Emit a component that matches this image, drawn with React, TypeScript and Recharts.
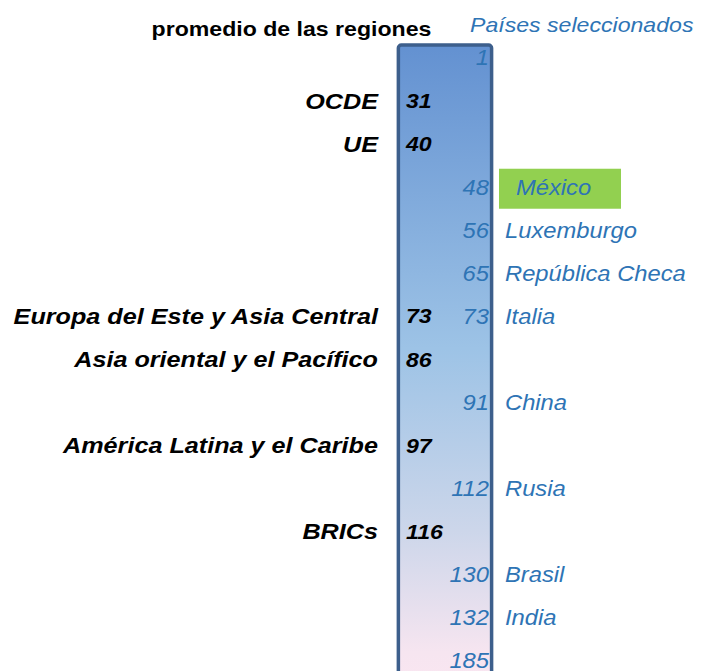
import { Bar, ComposedChart, ReferenceArea, XAxis, YAxis } from "recharts";

const regionNames = [
  "OCDE",
  "UE",
  "Europa del Este y Asia Central",
  "Asia oriental y el Pacífico",
  "América Latina y el Caribe",
  "BRICs",
];
const regionRanks = [31, 40, 73, 86, 97, 116];

const countryNames = [
  "",
  "México",
  "Luxemburgo",
  "República Checa",
  "Italia",
  "China",
  "Rusia",
  "Brasil",
  "India",
  "",
];
const countryRanks = [1, 48, 56, 65, 73, 91, 112, 130, 132, 185];

const HIGHLIGHT = "México";

const rows = Array.from(new Set([...regionRanks, ...countryRanks]))
  .sort((a, b) => a - b)
  .map((rank) => ({ rank }));

const FONT = '"Liberation Sans", Arial, sans-serif';
const BLUE = "#2e74b5";

function RegionTick({ y, payload }: any) {
  const i = regionRanks.indexOf(payload.value);
  if (i < 0) return <g />;
  return (
    <g fontFamily={FONT} fontWeight="bold" fontStyle="italic" fill="#000">
      <text transform={`translate(378 ${y}) scale(1.12 1)`} textAnchor="end" dy="0.36em" fontSize={22.5}>
        {regionNames[i]}
      </text>
      <text transform={`translate(406 ${y}) scale(1.1 1)`} textAnchor="start" dy="0.36em" fontSize={21}>
        {regionRanks[i]}
      </text>
    </g>
  );
}

function CountryTick({ y, payload }: any) {
  const i = countryRanks.indexOf(payload.value);
  if (i < 0) return <g />;
  const name = countryNames[i];
  const hl = name === HIGHLIGHT;
  return (
    <g fontFamily={FONT} fontStyle="italic" fill={BLUE}>
      {hl ? <rect x={499} y={y - 18} width={122} height={40} fill="#92d050" /> : null}
      <text transform={`translate(489 ${y}) scale(1.08 1)`} textAnchor="end" dy="0.36em" fontSize={22}>
        {countryRanks[i]}
      </text>
      {name ? (
        <text transform={`translate(${hl ? 516 : 505} ${y}) scale(1.08 1)`} textAnchor="start" dy="0.36em" fontSize={22}>
          {name}
        </text>
      ) : null}
    </g>
  );
}

function Column(p: any) {
  return (
    <rect
      x={p.x}
      y={p.y + 9}
      width={p.width}
      height={p.height}
      rx={3}
      fill="url(#barFill)"
      stroke="#3d5f8c"
      strokeWidth={3.5}
    />
  );
}

export default function App() {
  return (
    <div style={{ position: "absolute", left: 0, top: 0, width: 701, height: 671, overflow: "hidden", background: "#fff" }}>
      <ComposedChart
        width={701}
        height={700}
        data={rows}
        layout="vertical"
        margin={{ top: 36, right: 0, bottom: 18, left: 0 }}
      >
        <defs>
          <linearGradient id="barFill" x1="0" y1="0" x2="0" y2="1">
            <stop offset="0%" stopColor="#6391d1" />
            <stop offset="47%" stopColor="#9dc3e6" />
            <stop offset="75%" stopColor="#ccd6ea" />
            <stop offset="94%" stopColor="#f6e5f0" />
            <stop offset="100%" stopColor="#fbe6f1" />
          </linearGradient>
        </defs>
        <XAxis type="number" domain={[0, 701]} hide />
        <ReferenceArea
          yAxisId="left"
          y1={rows[0].rank}
          y2={rows[rows.length - 1].rank}
          x1={398.5}
          x2={492}
          ifOverflow="visible"
          shape={<Column />}
        />
        <Bar yAxisId="left" dataKey="rank" fillOpacity={0} isAnimationActive={false} />
        <YAxis
          yAxisId="left"
          type="category"
          dataKey="rank"
          width={1}
          interval={0}
          axisLine={false}
          tickLine={false}
          tick={<RegionTick />}
        />
        <YAxis
          yAxisId="right"
          orientation="right"
          type="category"
          dataKey="rank"
          width={1}
          interval={0}
          axisLine={false}
          tickLine={false}
          tick={<CountryTick />}
        />
      </ComposedChart>
      <div
        style={{
          position: "absolute",
          right: 701 - 431,
          top: 17,
          fontFamily: FONT,
          fontWeight: "bold",
          fontSize: 21,
          whiteSpace: "nowrap",
          transform: "scaleX(1.1)",
          transformOrigin: "right center",
        }}
      >
        promedio de las regiones
      </div>
      <div
        style={{
          position: "absolute",
          left: 470,
          top: 13,
          fontFamily: FONT,
          fontStyle: "italic",
          fontSize: 21,
          color: BLUE,
          whiteSpace: "nowrap",
          transform: "scaleX(1.1)",
          transformOrigin: "left center",
        }}
      >
        Países seleccionados
      </div>
    </div>
  );
}
